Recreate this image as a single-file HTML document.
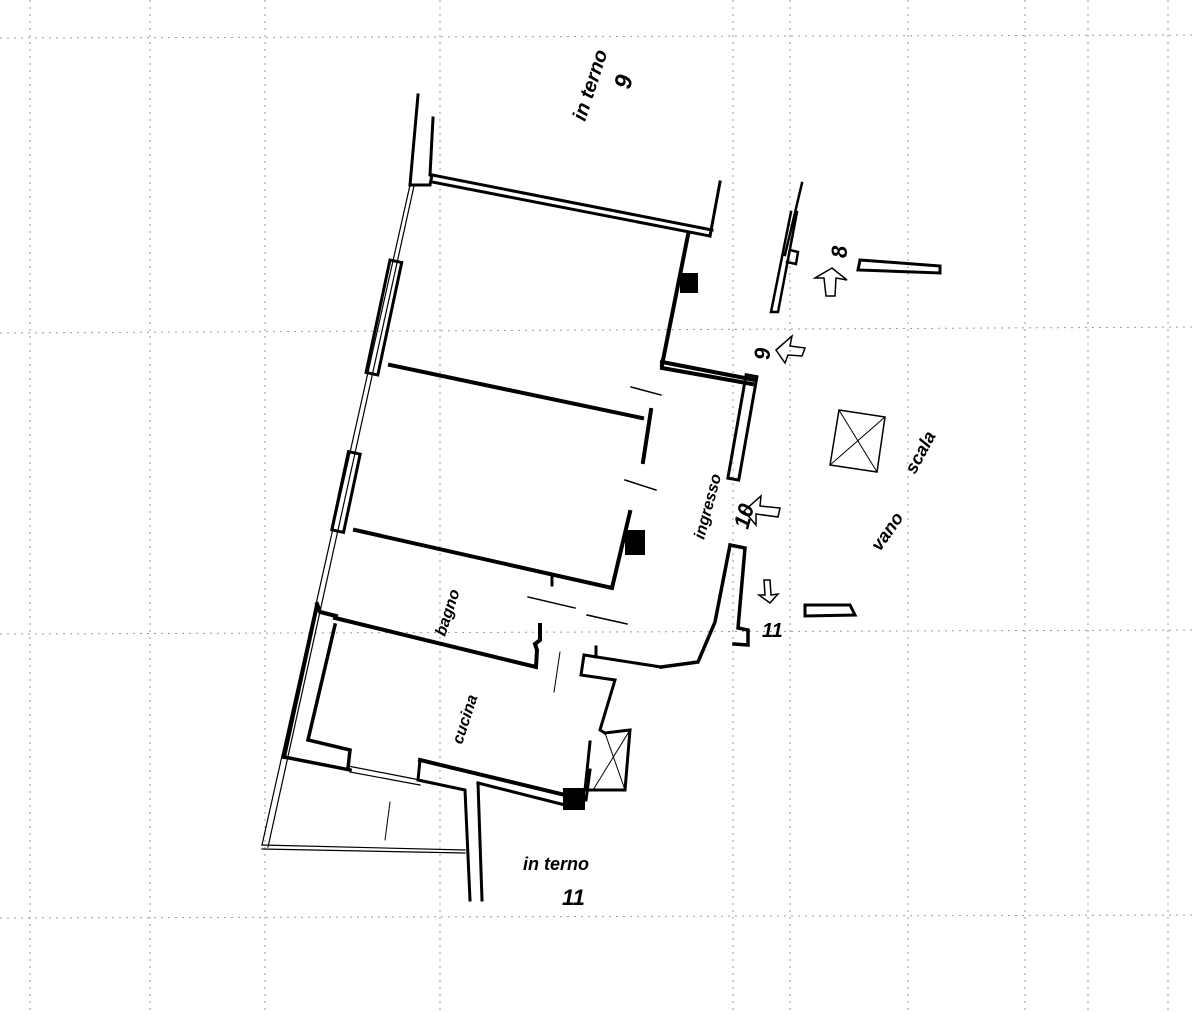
<!DOCTYPE html>
<html><head><meta charset="utf-8"><style>
html,body{margin:0;padding:0;background:#fff;width:1197px;height:1015px;overflow:hidden}
svg{display:block}
text{font-family:"Liberation Sans",sans-serif;font-style:italic;font-weight:bold;fill:#000}
</style></head><body>
<svg width="1197" height="1015" viewBox="0 0 1197 1015" xmlns="http://www.w3.org/2000/svg">
<g stroke="#999" stroke-width="1" stroke-dasharray="2,5" fill="none">
<line x1="0" y1="38" x2="1197" y2="35"/>
<line x1="0" y1="333" x2="1197" y2="327"/>
<line x1="0" y1="634" x2="1197" y2="630"/>
<line x1="0" y1="918" x2="1197" y2="915"/>
<line x1="30" y1="0" x2="30" y2="1015"/>
<line x1="150" y1="0" x2="150" y2="1015"/>
<line x1="265" y1="0" x2="265" y2="1015"/>
<line x1="440" y1="0" x2="440" y2="1015"/>
<line x1="733" y1="0" x2="733" y2="1015"/>
<line x1="790" y1="0" x2="790" y2="1015"/>
<line x1="908" y1="0" x2="908" y2="1015"/>
<line x1="1025" y1="0" x2="1025" y2="1015"/>
<line x1="1088" y1="0" x2="1088" y2="1015"/>
<line x1="1168" y1="0" x2="1168" y2="1015"/>
</g>
<g stroke="#000" fill="none" stroke-linecap="square">
<line x1="418" y1="95" x2="410" y2="185" stroke-width="3"/>
<line x1="433" y1="118" x2="430" y2="175" stroke-width="3"/>
<path d="M410 185 L262 845 M414 186 L268 847" stroke-width="1.2"/>
<path d="M410 185 L430 185 L432 175" stroke-width="3"/>
<rect x="378" y="260" width="12" height="115" transform="rotate(12 384 317)" stroke-width="3"/>
<rect x="340" y="452" width="12" height="80" transform="rotate(12 346 492)" stroke-width="3"/>
<path d="M432 175 L712 230 M432 182 L710 236" stroke-width="3"/>
<line x1="720" y1="182" x2="710" y2="236" stroke-width="3"/>
<line x1="688" y1="235" x2="662" y2="365" stroke-width="4"/>
<rect x="680" y="273" width="18" height="20" fill="#000" stroke="none"/>
<path d="M662 362 L755 380 M662 368 L752 384" stroke-width="4"/>
<rect x="737" y="375" width="11" height="105" transform="rotate(10 743 427)" stroke-width="3"/>
<path d="M802 183 L785 255 M797 212 L778 312 L771 312 L791 212" stroke-width="2.5"/>
<path d="M790 250 L798 252 L796 264 L787 262" stroke-width="2.5"/>
<line x1="390" y1="365" x2="642" y2="418" stroke-width="4"/>
<line x1="651" y1="410" x2="643" y2="462" stroke-width="4"/>
<line x1="631" y1="387" x2="661" y2="395" stroke-width="1.5"/>
<line x1="625" y1="480" x2="656" y2="490" stroke-width="1.5"/>
<path d="M355 530 L612 588 L630 512" stroke-width="4"/>
<rect x="625" y="530" width="20" height="25" fill="#000" stroke="none"/>
<line x1="552" y1="575" x2="552" y2="585" stroke-width="3"/>
<line x1="528" y1="597" x2="575" y2="608" stroke-width="1.5"/>
<line x1="587" y1="615" x2="627" y2="624" stroke-width="1.5"/>
<path d="M317 604 L320 612 L336 616 M335 618 L536 667 L537 650 L535 644 L540 640 L540 625" stroke-width="4"/>
<path d="M317 605 L284 757" stroke-width="4"/>
<path d="M335 625 L308 740 L350 750 L348 768" stroke-width="3.5"/>
<path d="M348 766 L420 780 M350 772 L420 785" stroke-width="1.2"/>
<line x1="390" y1="802" x2="385" y2="840" stroke-width="1"/>
<line x1="560" y1="652" x2="554" y2="692" stroke-width="1"/>
<path d="M284 757 L350 770" stroke-width="3.5"/>
<path d="M420 760 L418 780 L465 790 L470 900" stroke-width="3"/>
<path d="M420 760 L565 795" stroke-width="4"/>
<path d="M478 783 L482 900" stroke-width="3"/>
<path d="M478 783 L565 805" stroke-width="3"/>
<rect x="563" y="788" width="22" height="22" fill="#000" stroke="none"/>
<path d="M262 845 L465 850 M262 849 L465 853" stroke-width="1.2"/>
<path d="M730 545 L745 548 L738 628 L748 630 L748 645 L734 644 M730 545 L715 622 L698 662 L661 667" stroke-width="3.5"/>
<path d="M596 647 L596 657 M584 655 L661 667 M584 655 L581 675 L615 680 L600 730 L605 733" stroke-width="3"/>
<path d="M605 733 L630 730 L625 790 L585 790 L590 742" stroke-width="3"/>
<path d="M630 730 L593 790 M605 733 L625 790" stroke-width="1"/>
<line x1="590" y1="770" x2="586" y2="800" stroke-width="3"/>
<path d="M839 410 L885 417 L877 472 L830 465 Z" stroke-width="1.5"/>
<path d="M839 410 L877 472 M885 417 L830 465" stroke-width="1"/>
<path d="M860 260 L940 266 L940 273 L858 270 Z" stroke-width="3"/>
<path d="M805 605 L850 605 L855 615 L805 616 Z" stroke-width="3"/>
<path d="M826 296 L824 278 L815 278 L832 268 L847 280 L836 278 L835 296 Z" stroke-width="1.5"/>
<path d="M776 350 L792 336 L790 346 L805 348 L802 356 L788 355 L785 363 Z" stroke-width="1.5"/>
<path d="M744 511 L761 496 L760 506 L780 508 L778 517 L756 514 L756 525 Z" stroke-width="1.5"/>
<path d="M770 603 L759 595 L765 595 L764 580 L770 580 L771 595 L778 594 Z" stroke-width="1.5"/>
</g>
<g font-size="20">
<text transform="translate(585,122) rotate(-72)" font-weight="normal">in terno</text>
<text transform="translate(630,90) rotate(-78)" font-size="24">9</text>
<text transform="translate(704,540) rotate(-75)" font-size="16">ingresso</text>
<text transform="translate(748,530) rotate(-75)" font-size="22">10</text>
<text transform="translate(445,637) rotate(-72)" font-size="16">bagno</text>
<text transform="translate(462,745) rotate(-72)" font-size="16">cucina</text>
<text x="523" y="870" font-size="18">in terno</text>
<text x="562" y="905" font-size="22">11</text>
<text transform="translate(847,258) rotate(-90)" font-size="22">8</text>
<text transform="translate(770,360) rotate(-90)" font-size="22">9</text>
<text x="762" y="637" font-size="20">11</text>
<text transform="translate(880,552) rotate(-55)" font-size="18">vano</text>
<text transform="translate(915,475) rotate(-62)" font-size="18">scala</text>
</g>
</svg>
</body></html>
